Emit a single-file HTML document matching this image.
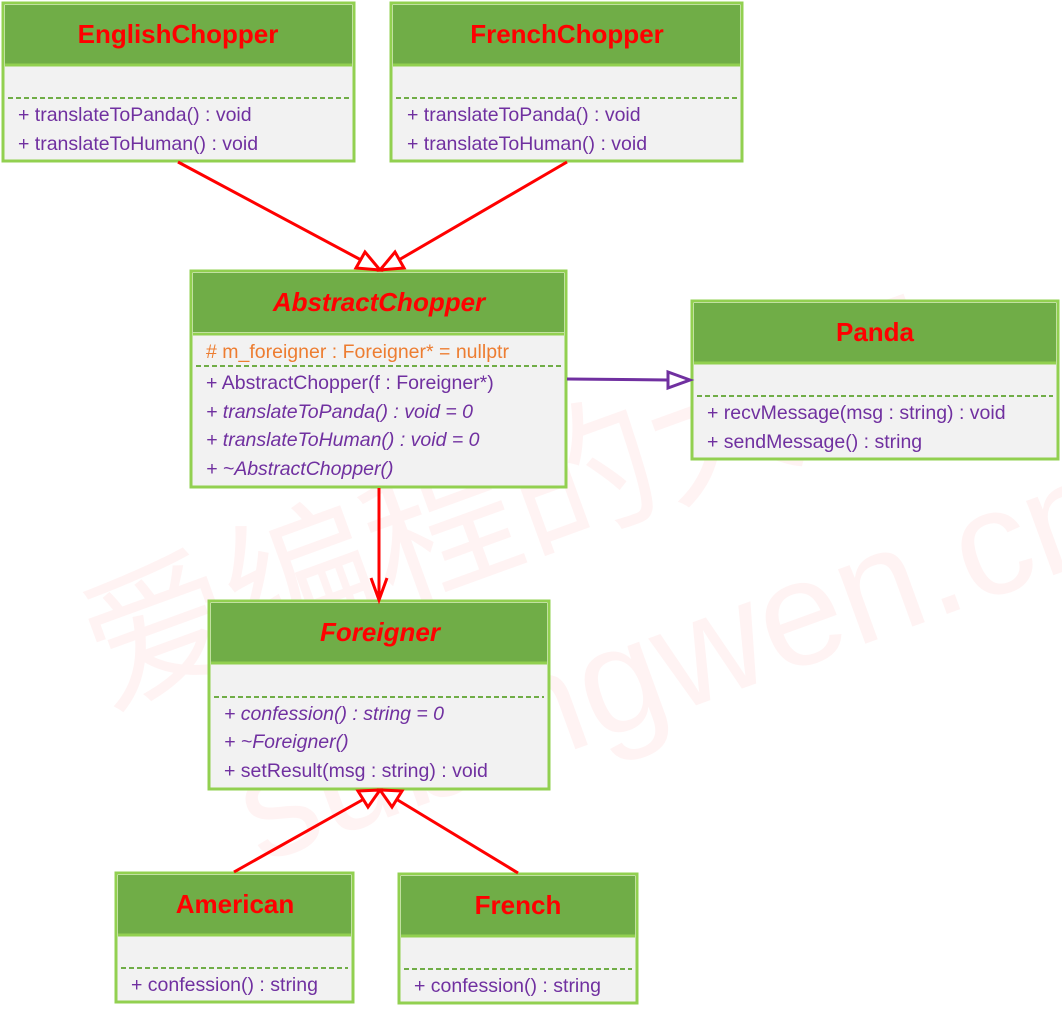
<!DOCTYPE html>
<html><head><meta charset="utf-8"><style>
body{margin:0;background:#fff;}
svg text{font-family:"Liberation Sans",sans-serif;}
.t{fill:#ff0000;font-weight:bold;font-size:26px;text-anchor:middle}
.m{fill:#7030a0;font-size:19.5px}
.i{font-style:italic}
.hd{fill:#70ad47}
.bd{fill:#f2f2f2;stroke:#92d050;stroke-width:3}
.ds{stroke:#70ad47;stroke-width:2;stroke-dasharray:5,3}
</style></head><body>
<svg width="1062" height="1012" xmlns="http://www.w3.org/2000/svg">
<g opacity="0.045" fill="#ff0000" font-family="Liberation Sans,Noto Sans CJK SC,sans-serif" font-size="150">
<text x="60" y="560" transform="rotate(-20 500 500)">爱编程的大丙</text>
<text x="150" y="760" transform="rotate(-20 500 500)">subingwen.cn</text>
</g>
<!-- EnglishChopper -->
<rect class="bd" x="3" y="3" width="351" height="158"/>
<rect class="hd" x="5" y="5" width="347" height="59"/>
<line x1="5" y1="65" x2="352" y2="65" stroke="#92d050" stroke-width="3"/>
<text class="t" x="178" y="43">EnglishChopper</text>
<line class="ds" x1="8" y1="98" x2="350" y2="98"/>
<text class="m" x="18" y="121">+ translateToPanda() : void</text>
<text class="m" x="18" y="150">+ translateToHuman() : void</text>
<!-- FrenchChopper -->
<rect class="bd" x="391" y="3" width="351" height="158"/>
<rect class="hd" x="393" y="5" width="347" height="59"/>
<line x1="393" y1="65" x2="740" y2="65" stroke="#92d050" stroke-width="3"/>
<text class="t" x="567" y="43">FrenchChopper</text>
<line class="ds" x1="396" y1="98" x2="738" y2="98"/>
<text class="m" x="407" y="121">+ translateToPanda() : void</text>
<text class="m" x="407" y="150">+ translateToHuman() : void</text>
<!-- AbstractChopper -->
<rect class="bd" x="191" y="271" width="375" height="216"/>
<rect class="hd" x="193" y="273" width="371" height="59"/>
<line x1="193" y1="334" x2="564" y2="334" stroke="#92d050" stroke-width="3"/>
<text class="t i" x="379" y="311">AbstractChopper</text>
<text class="m" x="206" y="358" style="fill:#ed7d31">#  m_foreigner : Foreigner* = nullptr</text>
<line class="ds" x1="196" y1="366" x2="561" y2="366"/>
<text class="m" x="206" y="389">+ AbstractChopper(f : Foreigner*)</text>
<text class="m i" x="206" y="418">+ translateToPanda() : void = 0</text>
<text class="m i" x="206" y="446">+ translateToHuman() : void = 0</text>
<text class="m i" x="206" y="475">+ ~AbstractChopper()</text>
<!-- Panda -->
<rect class="bd" x="692" y="301" width="366" height="158"/>
<rect class="hd" x="694" y="303" width="362" height="59"/>
<line x1="694" y1="363" x2="1056" y2="363" stroke="#92d050" stroke-width="3"/>
<text class="t" x="875" y="341">Panda</text>
<line class="ds" x1="697" y1="396" x2="1053" y2="396"/>
<text class="m" x="707" y="419">+ recvMessage(msg : string) : void</text>
<text class="m" x="707" y="448">+ sendMessage() : string</text>
<!-- Foreigner -->
<rect class="bd" x="209" y="601" width="340" height="188"/>
<rect class="hd" x="211" y="603" width="336" height="59"/>
<line x1="211" y1="663" x2="547" y2="663" stroke="#92d050" stroke-width="3"/>
<text class="t i" x="380" y="641">Foreigner</text>
<line class="ds" x1="214" y1="697" x2="544" y2="697"/>
<text class="m i" x="224" y="720">+ confession() : string = 0</text>
<text class="m i" x="224" y="748">+ ~Foreigner()</text>
<text class="m" x="224" y="777">+ setResult(msg : string) : void</text>
<!-- American -->
<rect class="bd" x="116" y="873" width="237" height="129"/>
<rect class="hd" x="118" y="875" width="233" height="59"/>
<line x1="118" y1="935" x2="351" y2="935" stroke="#92d050" stroke-width="3"/>
<text class="t" x="235" y="913">American</text>
<line class="ds" x1="121" y1="968" x2="348" y2="968"/>
<text class="m" x="131" y="991">+ confession() : string</text>
<!-- French -->
<rect class="bd" x="399" y="874" width="238" height="129"/>
<rect class="hd" x="401" y="876" width="234" height="59"/>
<line x1="401" y1="936" x2="635" y2="936" stroke="#92d050" stroke-width="3"/>
<text class="t" x="518" y="914">French</text>
<line class="ds" x1="404" y1="969" x2="632" y2="969"/>
<text class="m" x="414" y="992">+ confession() : string</text>
<!-- arrows -->
<g stroke="#ff0000" stroke-width="3" fill="none">
<line x1="178" y1="162" x2="363" y2="261"/>
<polygon points="380,270 356,268 365,252" fill="#fff"/>
<line x1="567" y1="162" x2="397" y2="261"/>
<polygon points="380,270 395,252 404,268" fill="#fff"/>
<line x1="379" y1="488" x2="379" y2="600"/>
<polyline points="371,578 379,600 387,578"/>
<line x1="234" y1="872" x2="364" y2="799"/>
<polygon points="380,790 368,807 358,791" fill="#fff"/>
<line x1="518" y1="873" x2="396" y2="799"/>
<polygon points="380,790 402,791 392,807" fill="#fff"/>
</g>
<g stroke="#7030a0" stroke-width="3" fill="none">
<line x1="567" y1="379" x2="668" y2="380"/>
<polygon points="690,380 668,372 668,388" fill="#fff"/>
</g>
</svg>
</body></html>
